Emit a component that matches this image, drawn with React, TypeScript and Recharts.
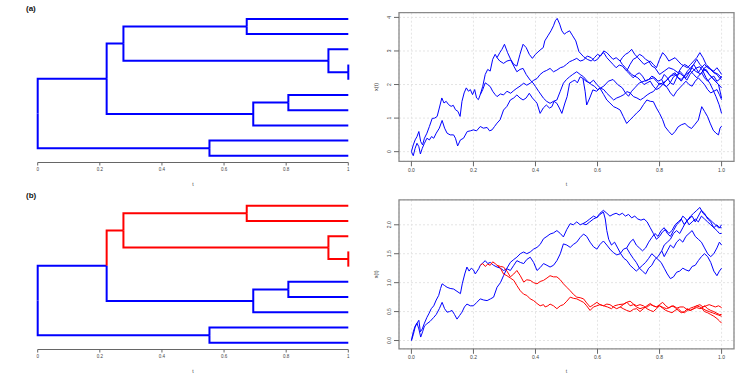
import React from "react";
import {
  LineChart,
  Line,
  XAxis,
  YAxis,
  CartesianGrid,
  ReferenceArea,
} from "recharts";

// dendrogram topology (same in both rows)
const leafIds = ["L1", "L2", "L3", "L4", "L5", "L6", "L7", "L8", "L9", "L10"];
const nodeIds = ["root", "A", "B", "B1", "B2", "B1a", "B1b", "B45", "B2a"];
const nodeHeights = [0, 0.553, 0.222, 0.276, 0.694, 0.673, 0.936, 1.0, 0.807];
const edges: [string, string][] = [
  ["root", "B"], ["root", "A"],
  ["B", "B1"], ["B", "B2"],
  ["B1", "B1a"], ["B1", "B1b"],
  ["B1a", "L1"], ["B1a", "L2"],
  ["B1b", "L3"], ["B1b", "B45"],
  ["B45", "L4"], ["B45", "L5"],
  ["B2", "B2a"], ["B2", "L8"],
  ["B2a", "L6"], ["B2a", "L7"],
  ["A", "L9"], ["A", "L10"],
];
// sub-tree drawn red in row (b)
const redNodes = ["B1", "B1a", "B1b", "B45", "L1", "L2", "L3", "L4", "L5"];

const timeTicks = [0, 0.2, 0.4, 0.6, 0.8, 1];
const ticksA = [0, 1, 2, 3, 4];
const ticksB = [0, 0.5, 1, 1.5, 2];

// ---- row (a) paths, one per tree edge, [t, x(t)] ----
const aB = [[0,0],[0.006,0.2],[0.012,0.35],[0.018,0.45],[0.024,0.6],[0.03,0.3],[0.036,0.2],[0.042,0.4],[0.05,0.55],[0.058,0.75],[0.067,0.99],[0.075,1.0],[0.083,1.05],[0.09,1.3],[0.098,1.6],[0.105,1.45],[0.112,1.5],[0.12,1.4],[0.128,1.35],[0.135,1.38],[0.142,1.25],[0.15,1.2],[0.157,1.05],[0.163,1.5],[0.17,1.75],[0.177,1.9],[0.184,1.8],[0.19,1.85],[0.197,1.7],[0.204,1.85],[0.21,1.6],[0.216,1.55],[0.222,1.7]];
const aA = [[0,0],[0.006,-0.12],[0.012,0.1],[0.018,0.25],[0.024,0.15],[0.029,-0.07],[0.035,0.1],[0.042,0.25],[0.05,0.4],[0.058,0.35],[0.065,0.45],[0.072,0.4],[0.08,0.55],[0.09,0.7],[0.099,0.93],[0.107,0.7],[0.115,0.55],[0.125,0.5],[0.136,0.5],[0.142,0.4],[0.149,0.17],[0.158,0.35],[0.168,0.4],[0.18,0.6],[0.19,0.62],[0.2,0.65],[0.21,0.62],[0.222,0.75],[0.232,0.7],[0.244,0.72],[0.252,0.62],[0.26,0.65],[0.268,0.75],[0.276,0.85],[0.286,0.95],[0.297,1.24],[0.308,1.35],[0.319,1.54],[0.33,1.6],[0.34,1.69],[0.35,1.6],[0.36,1.54],[0.37,1.6],[0.38,1.74],[0.39,1.6],[0.4,1.5],[0.405,1.44],[0.415,1.14],[0.425,1.3],[0.435,1.39],[0.445,1.3],[0.453,1.34],[0.46,1.5],[0.469,1.44],[0.477,1.3],[0.485,1.14],[0.495,1.45],[0.502,1.64],[0.51,2.04],[0.52,2.1],[0.527,2.13],[0.535,2.05],[0.544,2.23],[0.553,2.18]];
const aB1 = [[0.222,1.7],[0.23,1.95],[0.238,2.3],[0.246,2.45],[0.254,2.4],[0.262,2.75],[0.27,2.9],[0.276,2.8]];
const aB2 = [[0.222,1.7],[0.23,1.85],[0.238,2.05],[0.246,2.0],[0.254,1.94],[0.262,1.8],[0.27,1.7],[0.276,1.64],[0.287,1.72],[0.297,1.69],[0.308,1.8],[0.32,1.74],[0.33,1.82],[0.34,1.89],[0.35,1.95],[0.362,2.04],[0.372,1.98],[0.383,2.04],[0.393,2.12],[0.405,2.18],[0.415,2.3],[0.426,2.38],[0.436,2.42],[0.447,2.48],[0.458,2.38],[0.469,2.43],[0.48,2.5],[0.49,2.53],[0.5,2.6],[0.51,2.68],[0.52,2.72],[0.533,2.78],[0.544,2.7],[0.555,2.73],[0.567,2.85],[0.58,2.8],[0.59,2.7],[0.6,2.75],[0.61,2.88],[0.62,2.95],[0.63,2.8],[0.64,2.7],[0.65,2.6],[0.66,2.5],[0.67,2.58],[0.68,2.55],[0.694,2.4]];
const aB1a = [[0.276,2.8],[0.285,2.95],[0.292,3.05],[0.3,3.2],[0.31,2.95],[0.32,2.75],[0.33,2.6],[0.34,2.55],[0.35,2.9],[0.36,3.2],[0.37,3.1],[0.38,2.9],[0.39,2.78],[0.4,2.9],[0.415,3.03],[0.425,3.1],[0.43,3.3],[0.44,3.45],[0.45,3.6],[0.458,3.75],[0.464,3.9],[0.47,3.97],[0.478,3.8],[0.485,3.6],[0.493,3.5],[0.5,3.55],[0.51,3.6],[0.52,3.45],[0.53,3.3],[0.54,2.98],[0.555,2.83],[0.567,2.75],[0.58,2.7],[0.59,2.8],[0.6,2.9],[0.61,2.85],[0.62,3.0],[0.63,2.95],[0.64,2.85],[0.65,2.75],[0.66,2.8],[0.673,2.7]];
const aB1b = [[0.276,2.8],[0.285,2.7],[0.297,2.63],[0.308,2.7],[0.32,2.73],[0.33,2.55],[0.34,2.38],[0.35,2.45],[0.36,2.48],[0.37,2.3],[0.383,2.13],[0.392,2.05],[0.4,1.94],[0.41,1.8],[0.426,1.59],[0.436,1.5],[0.447,1.44],[0.458,1.5],[0.469,1.54],[0.48,1.8],[0.49,2.04],[0.5,2.15],[0.51,2.23],[0.52,2.3],[0.533,2.38],[0.544,2.3],[0.555,2.23],[0.567,2.1],[0.58,2.0],[0.59,1.95],[0.6,1.85],[0.61,1.9],[0.62,1.95],[0.635,2.1],[0.65,2.15],[0.665,2.0],[0.68,1.9],[0.69,1.75],[0.7,1.65],[0.71,1.8],[0.72,1.9],[0.735,2.05],[0.75,2.1],[0.765,2.15],[0.78,2.2],[0.79,2.1],[0.8,2.0],[0.81,2.05],[0.82,2.1],[0.835,2.25],[0.85,2.3],[0.86,2.2],[0.87,2.15],[0.885,2.3],[0.9,2.4],[0.91,2.3],[0.92,2.2],[0.936,2.35]];
const aL1 = [[0.673,2.7],[0.68,2.8],[0.69,2.9],[0.7,2.95],[0.71,3.05],[0.72,2.9],[0.73,2.8],[0.74,2.7],[0.75,2.6],[0.76,2.65],[0.77,2.7],[0.78,2.6],[0.79,2.5],[0.8,2.75],[0.81,2.95],[0.82,2.85],[0.83,2.7],[0.84,2.75],[0.85,2.8],[0.86,2.7],[0.87,2.6],[0.88,2.55],[0.89,2.5],[0.9,2.6],[0.91,2.7],[0.92,2.8],[0.93,2.95],[0.94,2.8],[0.95,2.6],[0.96,2.5],[0.97,2.4],[0.98,2.35],[0.99,2.3],[1,2.2]];
const aL2 = [[0.673,2.7],[0.68,2.6],[0.69,2.5],[0.7,2.4],[0.71,2.3],[0.72,2.25],[0.73,2.2],[0.74,2.1],[0.75,2.0],[0.76,2.05],[0.77,2.1],[0.78,1.95],[0.79,1.85],[0.8,1.9],[0.81,2.0],[0.82,2.1],[0.83,2.2],[0.84,2.3],[0.85,2.35],[0.86,2.2],[0.87,2.1],[0.88,2.25],[0.89,2.4],[0.9,2.5],[0.91,2.6],[0.92,2.45],[0.93,2.3],[0.94,2.4],[0.95,2.45],[0.96,2.3],[0.97,2.2],[0.98,2.1],[0.99,2.0],[1,1.6]];
const aL3 = [[0.936,2.35],[0.945,2.2],[0.955,2.1],[0.965,2.2],[0.975,2.25],[0.985,2.1],[0.993,2.15],[1,2.25]];
const aB45 = [[0.936,2.35],[0.945,2.5],[0.955,2.55],[0.965,2.45],[0.975,2.4],[0.985,2.5],[0.993,2.4],[1,2.3]];
const aB2a = [[0.694,2.4],[0.705,2.3],[0.715,2.2],[0.725,2.3],[0.735,2.35],[0.745,2.25],[0.755,2.1],[0.765,2.15],[0.775,2.25],[0.785,2.2],[0.795,2.1],[0.807,2.15]];
const aL8 = [[0.694,2.4],[0.705,2.6],[0.715,2.75],[0.725,2.8],[0.735,2.9],[0.745,2.85],[0.755,2.75],[0.765,2.7],[0.775,2.55],[0.785,2.5],[0.8,2.3],[0.815,2.4],[0.83,2.5],[0.845,2.45],[0.86,2.35],[0.87,2.5],[0.88,2.6],[0.89,2.55],[0.9,2.45],[0.91,2.6],[0.92,2.75],[0.93,2.6],[0.94,2.5],[0.95,2.4],[0.96,2.3],[0.97,2.2],[0.98,2.1],[0.99,2.0],[1,1.9]];
const aL6 = [[0.807,2.15],[0.815,2.3],[0.825,2.2],[0.835,2.05],[0.845,2.0],[0.855,2.2],[0.865,2.4],[0.875,2.3],[0.885,2.2],[0.895,2.35],[0.905,2.5],[0.915,2.4],[0.925,2.35],[0.935,2.5],[0.945,2.6],[0.955,2.5],[0.965,2.45],[0.975,2.35],[0.985,2.3],[0.993,2.2],[1,2.15]];
const aL7 = [[0.807,2.15],[0.815,2.0],[0.825,1.9],[0.835,1.75],[0.845,1.65],[0.855,1.8],[0.865,1.9],[0.875,2.0],[0.885,2.1],[0.895,2.0],[0.905,1.95],[0.915,2.1],[0.925,2.2],[0.935,2.1],[0.945,2.0],[0.955,1.85],[0.965,1.75],[0.975,1.8],[0.985,1.85],[0.993,1.7],[1,1.55]];
const aL9 = [[0.553,2.18],[0.56,1.8],[0.565,1.39],[0.575,1.6],[0.585,1.84],[0.597,1.8],[0.608,1.89],[0.62,1.7],[0.63,1.54],[0.64,1.45],[0.652,1.34],[0.662,1.3],[0.673,1.24],[0.683,1.05],[0.694,0.84],[0.705,0.95],[0.715,1.04],[0.726,1.15],[0.737,1.24],[0.748,1.4],[0.759,1.54],[0.77,1.5],[0.78,1.49],[0.79,1.3],[0.8,1.14],[0.81,0.95],[0.818,0.74],[0.83,0.6],[0.84,0.5],[0.85,0.6],[0.86,0.74],[0.87,0.8],[0.882,0.84],[0.892,0.75],[0.903,0.69],[0.913,0.8],[0.925,0.94],[0.936,1.34],[0.945,1.2],[0.955,1.04],[0.963,0.85],[0.973,0.64],[0.982,0.55],[0.99,0.5],[0.995,0.7],[1,0.76]];
const aL10 = [[0.553,2.18],[0.563,2.1],[0.575,2.04],[0.587,2.13],[0.598,2.0],[0.61,1.89],[0.62,1.85],[0.63,1.74],[0.64,1.65],[0.652,1.54],[0.662,1.6],[0.673,1.64],[0.685,1.7],[0.695,1.79],[0.705,1.75],[0.716,1.64],[0.727,1.6],[0.738,1.54],[0.748,1.6],[0.76,1.69],[0.77,1.75],[0.78,1.79],[0.79,1.9],[0.8,2.04],[0.812,2.0],[0.823,1.94],[0.834,2.05],[0.845,2.23],[0.856,2.3],[0.866,2.33],[0.877,2.25],[0.888,2.13],[0.898,2.3],[0.91,2.43],[0.92,2.5],[0.93,2.53],[0.94,2.4],[0.95,2.2],[0.962,2.04],[0.972,1.85],[0.982,1.64],[0.992,1.4],[1,1.14]];

// ---- row (b) paths ----
const bB = [[0,0],[0.006,0.15],[0.012,0.25],[0.018,0.3],[0.024,0.35],[0.029,0.15],[0.035,0.2],[0.042,0.3],[0.05,0.4],[0.056,0.46],[0.064,0.55],[0.072,0.6],[0.08,0.7],[0.088,0.78],[0.094,0.9],[0.099,0.98],[0.107,0.95],[0.115,0.92],[0.125,0.9],[0.136,0.89],[0.147,0.85],[0.158,0.81],[0.164,0.98],[0.172,1.15],[0.179,1.27],[0.186,1.2],[0.193,1.25],[0.2,1.22],[0.206,1.15],[0.212,1.2],[0.217,1.24],[0.222,1.3]];
const bA = [[0,0],[0.006,0.1],[0.012,0.23],[0.018,0.3],[0.024,0.2],[0.03,0.06],[0.036,0.15],[0.042,0.25],[0.05,0.29],[0.06,0.33],[0.072,0.4],[0.08,0.45],[0.09,0.55],[0.099,0.66],[0.107,0.55],[0.115,0.49],[0.123,0.5],[0.131,0.52],[0.139,0.45],[0.147,0.37],[0.155,0.43],[0.163,0.49],[0.171,0.58],[0.179,0.63],[0.19,0.6],[0.2,0.6],[0.211,0.66],[0.222,0.72],[0.233,0.7],[0.244,0.69],[0.255,0.72],[0.265,0.75],[0.276,0.92],[0.287,1.0],[0.297,1.12],[0.308,1.25],[0.319,1.35],[0.33,1.4],[0.34,1.44],[0.351,1.5],[0.362,1.53],[0.372,1.5],[0.383,1.53],[0.394,1.58],[0.405,1.61],[0.415,1.66],[0.426,1.76],[0.437,1.8],[0.447,1.84],[0.458,1.86],[0.469,1.9],[0.48,1.85],[0.49,1.79],[0.501,1.92],[0.512,2.02],[0.522,2.0],[0.533,2.05],[0.544,2.0],[0.553,2.02]];
const bB1 = [[0.222,1.3],[0.23,1.33],[0.238,1.28],[0.246,1.32],[0.254,1.3],[0.262,1.36],[0.27,1.33],[0.276,1.3]];
const bB2 = [[0.222,1.3],[0.23,1.34],[0.238,1.38],[0.246,1.33],[0.254,1.35],[0.265,1.3],[0.276,1.27],[0.287,1.25],[0.297,1.21],[0.308,1.24],[0.319,1.21],[0.33,1.3],[0.34,1.38],[0.351,1.35],[0.362,1.33],[0.372,1.4],[0.383,1.44],[0.394,1.35],[0.405,1.21],[0.415,1.26],[0.426,1.33],[0.437,1.3],[0.447,1.27],[0.458,1.3],[0.469,1.38],[0.48,1.5],[0.49,1.67],[0.501,1.65],[0.512,1.61],[0.522,1.66],[0.533,1.7],[0.544,1.78],[0.555,1.84],[0.565,1.8],[0.576,1.7],[0.587,1.62],[0.598,1.58],[0.608,1.66],[0.619,1.72],[0.63,1.65],[0.64,1.58],[0.651,1.52],[0.662,1.48],[0.673,1.5],[0.684,1.58],[0.694,1.6]];
const bB1a = [[0.276,1.3],[0.287,1.28],[0.297,1.27],[0.308,1.2],[0.319,1.1],[0.33,1.15],[0.34,1.21],[0.351,1.12],[0.362,1.01],[0.372,1.05],[0.383,1.04],[0.394,1.0],[0.405,0.98],[0.415,1.02],[0.426,1.04],[0.437,1.08],[0.447,1.12],[0.458,1.1],[0.469,1.1],[0.48,1.05],[0.49,0.98],[0.501,0.92],[0.512,0.86],[0.522,0.8],[0.533,0.75],[0.544,0.74],[0.555,0.72],[0.565,0.65],[0.576,0.58],[0.587,0.62],[0.598,0.66],[0.608,0.62],[0.619,0.6],[0.63,0.63],[0.64,0.62],[0.651,0.58],[0.662,0.55],[0.673,0.58]];
const bB1b = [[0.276,1.3],[0.287,1.25],[0.297,1.15],[0.308,1.12],[0.319,1.08],[0.33,1.04],[0.34,0.95],[0.351,0.86],[0.362,0.8],[0.372,0.78],[0.383,0.72],[0.394,0.69],[0.405,0.64],[0.415,0.6],[0.426,0.62],[0.431,0.58],[0.44,0.6],[0.447,0.63],[0.458,0.6],[0.469,0.55],[0.48,0.6],[0.49,0.62],[0.501,0.68],[0.512,0.75],[0.522,0.73],[0.533,0.72],[0.544,0.69],[0.555,0.66],[0.565,0.6],[0.576,0.52],[0.587,0.58],[0.598,0.6],[0.608,0.62],[0.62,0.6],[0.632,0.58],[0.645,0.55],[0.655,0.6],[0.668,0.62],[0.683,0.63],[0.695,0.66],[0.705,0.6],[0.716,0.62],[0.726,0.58],[0.737,0.55],[0.748,0.57],[0.76,0.58],[0.77,0.62],[0.78,0.6],[0.79,0.58],[0.8,0.6],[0.812,0.57],[0.823,0.55],[0.834,0.58],[0.845,0.6],[0.856,0.56],[0.866,0.58],[0.877,0.58],[0.888,0.54],[0.898,0.52],[0.91,0.55],[0.92,0.57],[0.93,0.55],[0.936,0.56]];
const bL1 = [[0.673,0.58],[0.683,0.62],[0.694,0.66],[0.705,0.68],[0.716,0.63],[0.726,0.6],[0.737,0.62],[0.748,0.6],[0.759,0.55],[0.77,0.52],[0.78,0.5],[0.79,0.55],[0.8,0.6],[0.81,0.56],[0.82,0.52],[0.83,0.5],[0.84,0.48],[0.85,0.52],[0.86,0.55],[0.87,0.5],[0.88,0.48],[0.89,0.52],[0.9,0.56],[0.91,0.58],[0.92,0.6],[0.93,0.58],[0.94,0.55],[0.95,0.52],[0.96,0.5],[0.97,0.48],[0.98,0.46],[0.99,0.44],[1,0.42]];
const bL2 = [[0.673,0.58],[0.683,0.55],[0.694,0.52],[0.705,0.5],[0.716,0.54],[0.726,0.55],[0.737,0.5],[0.748,0.55],[0.759,0.6],[0.77,0.64],[0.78,0.6],[0.79,0.58],[0.8,0.62],[0.81,0.66],[0.82,0.6],[0.83,0.56],[0.84,0.6],[0.85,0.57],[0.86,0.52],[0.87,0.48],[0.88,0.5],[0.89,0.55],[0.9,0.52],[0.91,0.55],[0.92,0.6],[0.93,0.62],[0.94,0.58],[0.95,0.6],[0.96,0.62],[0.97,0.6],[0.98,0.58],[0.99,0.6],[1,0.57]];
const bL3 = [[0.936,0.56],[0.945,0.5],[0.955,0.48],[0.965,0.45],[0.975,0.42],[0.985,0.38],[0.993,0.34],[1,0.3]];
const bB45 = [[0.936,0.56],[0.945,0.6],[0.955,0.55],[0.965,0.52],[0.975,0.5],[0.985,0.47],[0.993,0.45],[1,0.45]];
const bB2a = [[0.694,1.6],[0.705,1.5],[0.715,1.42],[0.725,1.35],[0.735,1.25],[0.745,1.2],[0.755,1.15],[0.765,1.25],[0.775,1.3],[0.785,1.4],[0.795,1.45],[0.807,1.55]];
const bL8 = [[0.694,1.6],[0.705,1.7],[0.715,1.75],[0.725,1.65],[0.735,1.6],[0.745,1.55],[0.755,1.6],[0.765,1.7],[0.775,1.78],[0.785,1.85],[0.795,1.8],[0.805,1.9],[0.815,1.95],[0.825,1.85],[0.835,1.8],[0.845,1.9],[0.855,2.0],[0.865,2.05],[0.875,2.15],[0.885,2.1],[0.895,2.0],[0.905,2.05],[0.915,2.1],[0.925,2.05],[0.935,2.15],[0.945,2.1],[0.955,2.05],[0.965,2.0],[0.975,1.95],[0.985,2.0],[0.993,1.95],[1,2.0]];
const bL6 = [[0.807,1.55],[0.815,1.65],[0.825,1.7],[0.835,1.75],[0.845,1.85],[0.855,1.9],[0.865,1.85],[0.875,1.95],[0.885,2.05],[0.895,2.1],[0.905,2.15],[0.915,2.05],[0.925,2.15],[0.935,2.25],[0.945,2.2],[0.955,2.1],[0.965,2.05],[0.975,1.95],[0.985,1.9],[0.993,1.85],[1,1.85]];
const bL7 = [[0.807,1.55],[0.815,1.45],[0.825,1.55],[0.835,1.65],[0.845,1.6],[0.855,1.7],[0.865,1.75],[0.875,1.7],[0.885,1.8],[0.895,1.85],[0.905,1.9],[0.915,1.8],[0.925,1.75],[0.935,1.7],[0.945,1.6],[0.955,1.5],[0.965,1.45],[0.975,1.5],[0.985,1.6],[0.993,1.7],[1,1.65]];
const bL9 = [[0.553,2.02],[0.563,2.05],[0.575,2.1],[0.587,2.15],[0.598,2.12],[0.608,2.18],[0.619,2.22],[0.625,2.1],[0.63,1.9],[0.636,1.75],[0.645,1.65],[0.655,1.7],[0.665,1.6],[0.675,1.5],[0.685,1.42],[0.695,1.38],[0.705,1.3],[0.715,1.25],[0.725,1.2],[0.735,1.25],[0.745,1.3],[0.755,1.35],[0.765,1.42],[0.775,1.5],[0.785,1.45],[0.795,1.4],[0.805,1.35],[0.815,1.25],[0.825,1.15],[0.835,1.07],[0.845,1.1],[0.855,1.18],[0.865,1.2],[0.875,1.25],[0.885,1.22],[0.895,1.2],[0.905,1.28],[0.915,1.3],[0.925,1.38],[0.935,1.45],[0.945,1.5],[0.955,1.45],[0.965,1.35],[0.975,1.2],[0.985,1.12],[0.993,1.2],[1,1.25]];
const bL10 = [[0.553,2.02],[0.563,2.0],[0.575,2.05],[0.587,2.1],[0.598,2.13],[0.608,2.2],[0.619,2.25],[0.63,2.2],[0.64,2.15],[0.65,2.18],[0.66,2.2],[0.67,2.17],[0.68,2.2],[0.69,2.15],[0.7,2.18],[0.71,2.12],[0.72,2.15],[0.73,2.1],[0.74,2.08],[0.75,2.1],[0.76,2.05],[0.77,1.95],[0.78,1.85],[0.79,1.75],[0.8,1.8],[0.81,1.88],[0.82,1.92],[0.83,1.85],[0.84,1.9],[0.85,2.0],[0.86,2.05],[0.87,2.1],[0.88,2.0],[0.89,2.08],[0.9,2.15],[0.91,2.2],[0.92,2.25],[0.93,2.3],[0.94,2.2],[0.95,2.15],[0.96,2.1],[0.97,2.05],[0.98,2.0],[0.99,1.95],[1,1.95]];

// path segment for each edge, keyed by the child node
const pathsA: Record<string, number[][]> = {
  B: aB, A: aA, B1: aB1, B2: aB2, B1a: aB1a, B1b: aB1b, L1: aL1, L2: aL2,
  L3: aL3, B45: aB45, B2a: aB2a, L8: aL8, L6: aL6, L7: aL7, L9: aL9, L10: aL10,
};
const pathsB: Record<string, number[][]> = {
  B: bB, A: bA, B1: bB1, B2: bB2, B1a: bB1a, B1b: bB1b, L1: bL1, L2: bL2,
  L3: bL3, B45: bB45, B2a: bB2a, L8: bL8, L6: bL6, L7: bL7, L9: bL9, L10: bL10,
};

const BLUE = "#0000ff";
const RED = "#ff0000";
const ROW2 = 186.5;
const FONT = "'Liberation Sans', Arial, sans-serif";

const heightOf = (id: string) => {
  const i = nodeIds.indexOf(id);
  return i >= 0 ? nodeHeights[i] : 1;
};
const childrenOf = (id: string) => edges.filter((e) => e[0] === id).map((e) => e[1]);
const posOf = (id: string): number => {
  const li = leafIds.indexOf(id);
  if (li >= 0) return li + 1;
  const ch = childrenOf(id);
  return ch.reduce((s, c) => s + posOf(c), 0) / ch.length;
};
const colorOf = (id: string, colored: boolean) =>
  colored && redNodes.includes(id) ? RED : BLUE;

function Dendro({ top, colored }: { top: number; colored: boolean }) {
  return (
    <div style={{ position: "absolute", left: 0, top }}>
      <LineChart width={360} height={188.5} margin={{ top: 11.3 - (top ? 0.2 : 0), right: 11.7, bottom: 0, left: 37.7 }}>
        <XAxis
          type="number"
          dataKey="x"
          domain={[0, 1]}
          ticks={timeTicks}
          tickFormatter={(v: number) => String(v)}
          height={26}
          tickSize={3}
          tickMargin={2}
          stroke="#666"
          tick={{ fontSize: 4.5, fill: "#444" }}
          label={{ value: "t", position: "insideBottom", offset: 2.3, fontSize: 5, fill: "#444" }}
        />
        <YAxis type="number" dataKey="y" domain={[0.5, 10.44]} reversed hide />
        {edges.map(([p, c]) => {
          const px = heightOf(p);
          const data = [
            { x: px, y: posOf(p) },
            { x: px, y: posOf(c) },
            { x: heightOf(c), y: posOf(c) },
          ];
          return (
            <Line
              key={p + c}
              data={data}
              dataKey="y"
              type="linear"
              stroke={colorOf(c, colored)}
              strokeWidth={2}
              dot={false}
              activeDot={false}
              isAnimationActive={false}
            />
          );
        })}
      </LineChart>
    </div>
  );
}

function RotTick(props: any) {
  const { x, y, payload, decimals } = props;
  const bx = x - 1;
  return (
    <text x={bx} y={y} transform={`rotate(-90 ${bx} ${y})`} textAnchor="middle" fontSize={5} fill="#444">
      {payload.value.toFixed(decimals)}
    </text>
  );
}

function Paths({
  top,
  colored,
  paths,
  yDomain,
  yTicks,
  decimals,
  mTop,
}: {
  top: number;
  colored: boolean;
  paths: Record<string, number[][]>;
  yDomain: [number, number];
  yTicks: number[];
  decimals: number;
  mTop: number;
}) {
  const ids = Object.keys(paths);
  // blue first, red on top
  const order = [
    ...ids.filter((id) => colorOf(id, colored) === BLUE),
    ...ids.filter((id) => colorOf(id, colored) === RED),
  ];
  return (
    <div style={{ position: "absolute", left: 370, top }}>
      <LineChart width={377} height={mTop + (yDomain[1] === 4.14 ? 148.6 : 149) + 26} margin={{ top: mTop, right: 13, bottom: 0, left: 0 }}>
        <CartesianGrid strokeDasharray="2 2" stroke="#e4e4e4" />
        <XAxis
          type="number"
          dataKey="t"
          domain={[-0.04, 1.04]}
          ticks={timeTicks}
          allowDataOverflow
          tickFormatter={(v: number) => v.toFixed(1)}
          height={26}
          tickSize={5}
          tickMargin={2}
          axisLine={false}
          stroke="#666"
          tick={{ fontSize: 5, fill: "#444" }}
          label={{ value: "t", position: "insideBottom", offset: 1.5, fontSize: 5, fill: "#444" }}
        />
        <YAxis
          type="number"
          dataKey="v"
          domain={yDomain}
          ticks={yTicks}
          allowDataOverflow
          width={29}
          tickSize={5}
          tickMargin={2}
          axisLine={false}
          stroke="#666"
          tick={<RotTick decimals={decimals} />}
          label={{ value: "x(t)", angle: -90, position: "insideLeft", offset: 6, fontSize: 5.5, fill: "#444", style: { textAnchor: "middle" } }}
        />
        <ReferenceArea
          x1={-0.04}
          x2={1.04}
          y1={yDomain[0]}
          y2={yDomain[1]}
          fill="none"
          fillOpacity={0}
          stroke="#8a8a8a"
          strokeWidth={1.3}
        />
        {order.map((id) => (
          <Line
            key={id}
            data={paths[id].map(([t, v]) => ({ t, v }))}
            dataKey="v"
            type="linear"
            stroke={colorOf(id, colored)}
            strokeWidth={1}
            dot={false}
            activeDot={false}
            isAnimationActive={false}
          />
        ))}
      </LineChart>
    </div>
  );
}

const labelStyle: React.CSSProperties = {
  position: "absolute",
  left: 26,
  fontFamily: FONT,
  fontWeight: "bold",
  fontSize: 8,
  lineHeight: "9px",
  color: "#111",
};

export default function App() {
  return (
    <div
      style={{
        position: "absolute",
        left: 0,
        top: 0,
        width: 747,
        height: 374,
        background: "#fff",
        fontFamily: FONT,
        overflow: "hidden",
      }}
    >
      <Dendro top={0} colored={false} />
      <Paths top={0} colored={false} paths={pathsA} yDomain={[-0.287, 4.14]} yTicks={ticksA} decimals={0} mTop={12.7} />
      <Dendro top={ROW2} colored={true} />
      <Paths top={ROW2} colored={true} paths={pathsB} yDomain={[-0.143, 2.432]} yTicks={ticksB} decimals={1} mTop={12.8} />
      <div style={{ ...labelStyle, top: 4 }}>(a)</div>
      <div style={{ ...labelStyle, top: 191 }}>(b)</div>
    </div>
  );
}
